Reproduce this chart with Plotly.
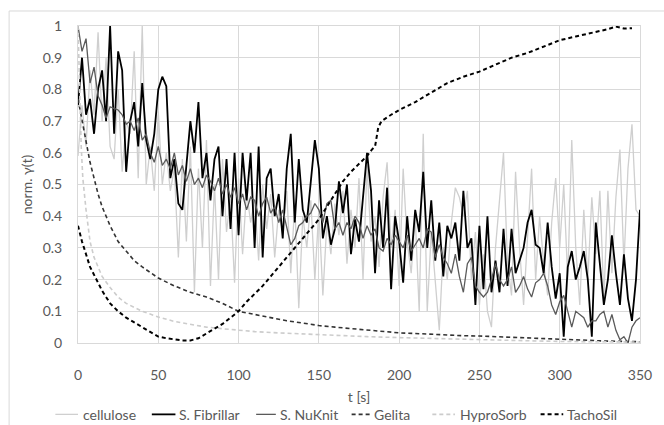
import numpy as np
import plotly.graph_objects as go

# Noisy samples, recorded every 2.5 s from 0 to 350 s
t_step = 2.5

cellulose = [
    0.59, 0.75, 0.62, 0.86, 0.72, 0.98, 0.70, 0.90, 0.62, 0.58,
    0.80, 0.54, 0.70, 0.66, 0.92, 0.52, 1.00, 0.50, 0.62, 0.48,
    0.73, 0.50, 0.60, 0.48, 0.55, 0.27, 0.58, 0.32, 0.62, 0.16,
    0.55, 0.30, 0.64, 0.18, 0.50, 0.20, 0.58, 0.35, 0.46, 0.19,
    0.52, 0.28, 0.48, 0.38, 0.45, 0.26, 0.50, 0.36, 0.47, 0.27,
    0.42, 0.35, 0.48, 0.22, 0.44, 0.11, 0.40, 0.30, 0.45, 0.20,
    0.42, 0.15, 0.38, 0.28, 0.44, 0.34, 0.48, 0.25, 0.42, 0.30,
    0.52, 0.20, 0.56, 0.32, 0.40, 0.24, 0.46, 0.57, 0.30, 0.42,
    0.18, 0.55, 0.32, 0.22, 0.40, 0.10, 0.66, 0.10, 0.35, 0.20,
    0.04, 0.30, 0.20, 0.38, 0.49, 0.46, 0.40, 0.48, 0.20, 0.35,
    0.12, 0.28, 0.10, 0.05, 0.30, 0.45, 0.60, 0.25, 0.15, 0.54,
    0.30, 0.12, 0.35, 0.55, 0.20, 0.40, 0.25, 0.15, 0.38, 0.52,
    0.30, 0.50, 0.20, 0.64, 0.30, 0.12, 0.42, 0.20, 0.46, 0.28,
    0.48, 0.14, 0.48, 0.22, 0.46, 0.61, 0.25, 0.55, 0.69, 0.42,
    0.40,
]

s_fibrillar = [
    0.75, 0.90, 0.72, 0.77, 0.66, 0.80, 0.86, 0.70, 1.00, 0.66,
    0.92, 0.86, 0.54, 0.70, 0.76, 0.62, 0.82, 0.64, 0.58, 0.66,
    0.80, 0.84, 0.81, 0.52, 0.58, 0.44, 0.42, 0.55, 0.70, 0.60,
    0.76, 0.52, 0.60, 0.45, 0.58, 0.62, 0.40, 0.58, 0.36, 0.60,
    0.34, 0.60, 0.45, 0.60, 0.30, 0.62, 0.27, 0.52, 0.55, 0.40,
    0.47, 0.33, 0.55, 0.66, 0.38, 0.58, 0.42, 0.38, 0.52, 0.64,
    0.55, 0.33, 0.40, 0.31, 0.36, 0.51, 0.41, 0.50, 0.28, 0.39,
    0.32, 0.45, 0.60, 0.48, 0.22, 0.45, 0.30, 0.49, 0.17, 0.40,
    0.32, 0.19, 0.40, 0.26, 0.42, 0.35, 0.54, 0.30, 0.45, 0.26,
    0.38, 0.21, 0.37, 0.33, 0.38, 0.26, 0.48, 0.30, 0.33, 0.12,
    0.37, 0.17, 0.40, 0.16, 0.26, 0.16, 0.36, 0.18, 0.36, 0.22,
    0.26, 0.30, 0.38, 0.42, 0.31, 0.30, 0.22, 0.38, 0.24, 0.14,
    0.22, 0.02, 0.24, 0.29, 0.20, 0.24, 0.29, 0.20, 0.02, 0.38,
    0.25, 0.12, 0.20, 0.34, 0.22, 0.12, 0.28, 0.14, 0.07, 0.20,
    0.42,
]

s_nuknit = [
    1.00, 0.92, 0.96, 0.82, 0.87, 0.78, 0.75, 0.71, 0.745, 0.74,
    0.735, 0.72, 0.69, 0.70, 0.67, 0.71, 0.64, 0.66, 0.60, 0.57,
    0.62, 0.56, 0.58, 0.55, 0.60, 0.53, 0.56, 0.51, 0.55, 0.50,
    0.52, 0.49, 0.53, 0.51, 0.48, 0.52, 0.47, 0.50, 0.46, 0.49,
    0.44, 0.47, 0.42, 0.46, 0.45, 0.40, 0.44, 0.46, 0.41, 0.43,
    0.38, 0.42, 0.36, 0.31, 0.33, 0.37, 0.38, 0.40, 0.41, 0.44,
    0.42, 0.38, 0.44, 0.45, 0.36, 0.38, 0.34, 0.38, 0.36, 0.40,
    0.38, 0.33, 0.37, 0.34, 0.36, 0.30, 0.29, 0.33, 0.31, 0.34,
    0.32, 0.30, 0.34, 0.29, 0.31, 0.33, 0.30, 0.36, 0.35, 0.27,
    0.31, 0.27, 0.25, 0.22, 0.28, 0.21, 0.16, 0.25, 0.27, 0.18,
    0.16, 0.145, 0.16, 0.20, 0.25, 0.20, 0.18, 0.20, 0.24, 0.16,
    0.18, 0.21, 0.17, 0.145, 0.19, 0.20, 0.22, 0.18, 0.12, 0.09,
    0.13, 0.15, 0.10, 0.05, 0.10, 0.09, 0.08, 0.05, 0.07, 0.07,
    0.09, 0.10, 0.05, 0.09, 0.04, 0.01, 0.02, 0.00, 0.05, 0.07,
    0.08,
]

t_noisy = np.arange(len(cellulose)) * t_step

# Smooth curves, each with its own time base
gelita_t = [0, 2.5, 5, 7.5, 10, 12.5, 15, 20, 25, 30, 35, 40, 50, 60, 70, 80,
            90, 100, 110, 120, 130, 140, 150, 160, 170, 180, 190, 200, 210,
            220, 230, 240, 250, 260, 270, 280, 290, 300, 310, 320, 330, 340, 350]
gelita = [0.77, 0.70, 0.63, 0.57, 0.52, 0.47, 0.43, 0.37, 0.32, 0.29, 0.26,
          0.24, 0.205, 0.18, 0.16, 0.145, 0.125, 0.10, 0.09, 0.08, 0.07,
          0.063, 0.055, 0.05, 0.045, 0.04, 0.035, 0.032, 0.03, 0.027, 0.025,
          0.023, 0.022, 0.02, 0.018, 0.015, 0.012, 0.01, 0.009, 0.008, 0.006,
          0.005, 0.004]

hyprosorb_t = [0, 1, 2, 3, 5, 7.5, 10, 15, 20, 25, 30, 40, 50, 60, 70, 80, 90,
               100, 110, 120, 140, 160, 180, 200, 220, 240, 260, 280, 300, 320, 350]
hyprosorb = [1.0, 0.78, 0.62, 0.52, 0.42, 0.32, 0.27, 0.21, 0.175, 0.145,
             0.125, 0.10, 0.082, 0.068, 0.058, 0.05, 0.045, 0.04, 0.036,
             0.033, 0.028, 0.024, 0.02, 0.017, 0.014, 0.011, 0.009, 0.007,
             0.005, 0.004, 0.003]

tachosil_t = [0, 2.5, 5, 7.5, 10, 15, 20, 25, 30, 35, 40, 45, 50, 55, 60, 65,
              70, 75, 80, 85, 90, 95, 100, 105, 110, 115, 120, 125, 130, 135,
              140, 145, 150, 155, 160, 165, 170, 175, 180, 183, 185, 187, 189,
              195, 200, 210, 220, 230, 240, 250, 260, 270, 280, 290, 300, 310,
              320, 330, 335, 340, 345]
tachosil = [0.37, 0.32, 0.28, 0.24, 0.215, 0.165, 0.125, 0.10, 0.08, 0.065,
            0.05, 0.035, 0.02, 0.015, 0.012, 0.008, 0.008, 0.015, 0.03, 0.045,
            0.06, 0.08, 0.10, 0.13, 0.155, 0.18, 0.21, 0.24, 0.27, 0.30, 0.33,
            0.36, 0.39, 0.43, 0.47, 0.51, 0.54, 0.565, 0.59, 0.61, 0.62, 0.68,
            0.70, 0.72, 0.735, 0.76, 0.79, 0.82, 0.84, 0.856, 0.878, 0.90,
            0.915, 0.935, 0.955, 0.967, 0.978, 0.99, 0.998, 0.992, 0.993]

x_ticks = [0, 50, 100, 150, 200, 250, 300, 350]
y_ticks = [0, 0.1, 0.2, 0.3, 0.4, 0.5, 0.6, 0.7, 0.8, 0.9, 1]
y_tick_text = ["0", "0.1", "0.2", "0.3", "0.4", "0.5", "0.6", "0.7", "0.8", "0.9", "1"]

FONT = "Lato, 'Noto Sans', sans-serif"
TEXT = "#595959"
GRID = "#d9d9d9"

series = [
    dict(name="cellulose", x=t_noisy, y=cellulose, color="#cfcfcf", width=1.3, dash="solid"),
    dict(name="S. Fibrillar", x=t_noisy, y=s_fibrillar, color="#000000", width=1.8, dash="solid"),
    dict(name="S. NuKnit", x=t_noisy, y=s_nuknit, color="#5a5a5a", width=1.3, dash="solid"),
    dict(name="Gelita", x=gelita_t, y=gelita, color="#333333", width=1.6, dash="4px,3px"),
    dict(name="HyproSorb", x=hyprosorb_t, y=hyprosorb, color="#cccccc", width=1.6, dash="4px,3px"),
    dict(name="TachoSil", x=tachosil_t, y=tachosil, color="#000000", width=2.0, dash="4px,3px"),
]

# plot-area geometry in pixels
L, T, W, H = 78, 26, 571, 316.7
FIG_W, FIG_H = 664, 425


def px_x(p):
    return (p - L) / W


def px_y(p):
    return (T + H - p) / H


fig = go.Figure()
for s in series:
    fig.add_trace(go.Scatter(x=s["x"], y=s["y"], name=s["name"], mode="lines",
                             line=dict(color=s["color"], width=s["width"], dash=s["dash"])))

# chart-area frame
fig.add_shape(type="rect", xref="paper", yref="paper",
              x0=px_x(8), x1=px_x(700), y0=px_y(460), y1=px_y(11),
              line=dict(color=GRID, width=1), layer="below")

# single-row legend below the axis: swatch span and label start (pixels)
legend_swatch = [(55, 78), (153, 177), (259, 279), (356, 375), (438, 461), (548, 571)]
legend_label_x = [81, 179, 281, 377, 464, 573]
legend_row_y = 414
for s, (a, b), lx in zip(series, legend_swatch, legend_label_x):
    fig.add_shape(type="line", xref="paper", yref="paper",
                  x0=px_x(a), x1=px_x(b), y0=px_y(legend_row_y), y1=px_y(legend_row_y),
                  line=dict(color=s["color"], width=s["width"], dash=s["dash"]))
    fig.add_annotation(text=s["name"], xref="paper", yref="paper",
                       x=px_x(lx), y=px_y(legend_row_y), xanchor="left", yanchor="middle",
                       showarrow=False, font=dict(family=FONT, size=14, color=TEXT))

fig.update_layout(
    width=FIG_W, height=FIG_H,
    margin=dict(l=L, r=FIG_W - L - W, t=T, b=FIG_H - T - H),
    paper_bgcolor="white", plot_bgcolor="white",
    font=dict(family=FONT, size=14, color=TEXT),
    showlegend=False,
)
fig.update_xaxes(range=[0, 350], tickvals=x_ticks, showgrid=True, gridcolor=GRID,
                 gridwidth=1, zeroline=False, showline=True, linecolor=GRID,
                 mirror=True, ticks="", ticklabelstandoff=19,
                 title=dict(text="t [s]", standoff=10, font=dict(size=14, color=TEXT)))
fig.update_yaxes(range=[0, 1], tickvals=y_ticks, ticktext=y_tick_text, showgrid=True,
                 gridcolor=GRID, gridwidth=1, zeroline=False, showline=True,
                 linecolor=GRID, mirror=True, ticks="", ticklabelstandoff=12,
                 title=dict(text="norm. γ(t)", standoff=6, font=dict(size=14, color=TEXT)))

fig.write_html("out.html")
